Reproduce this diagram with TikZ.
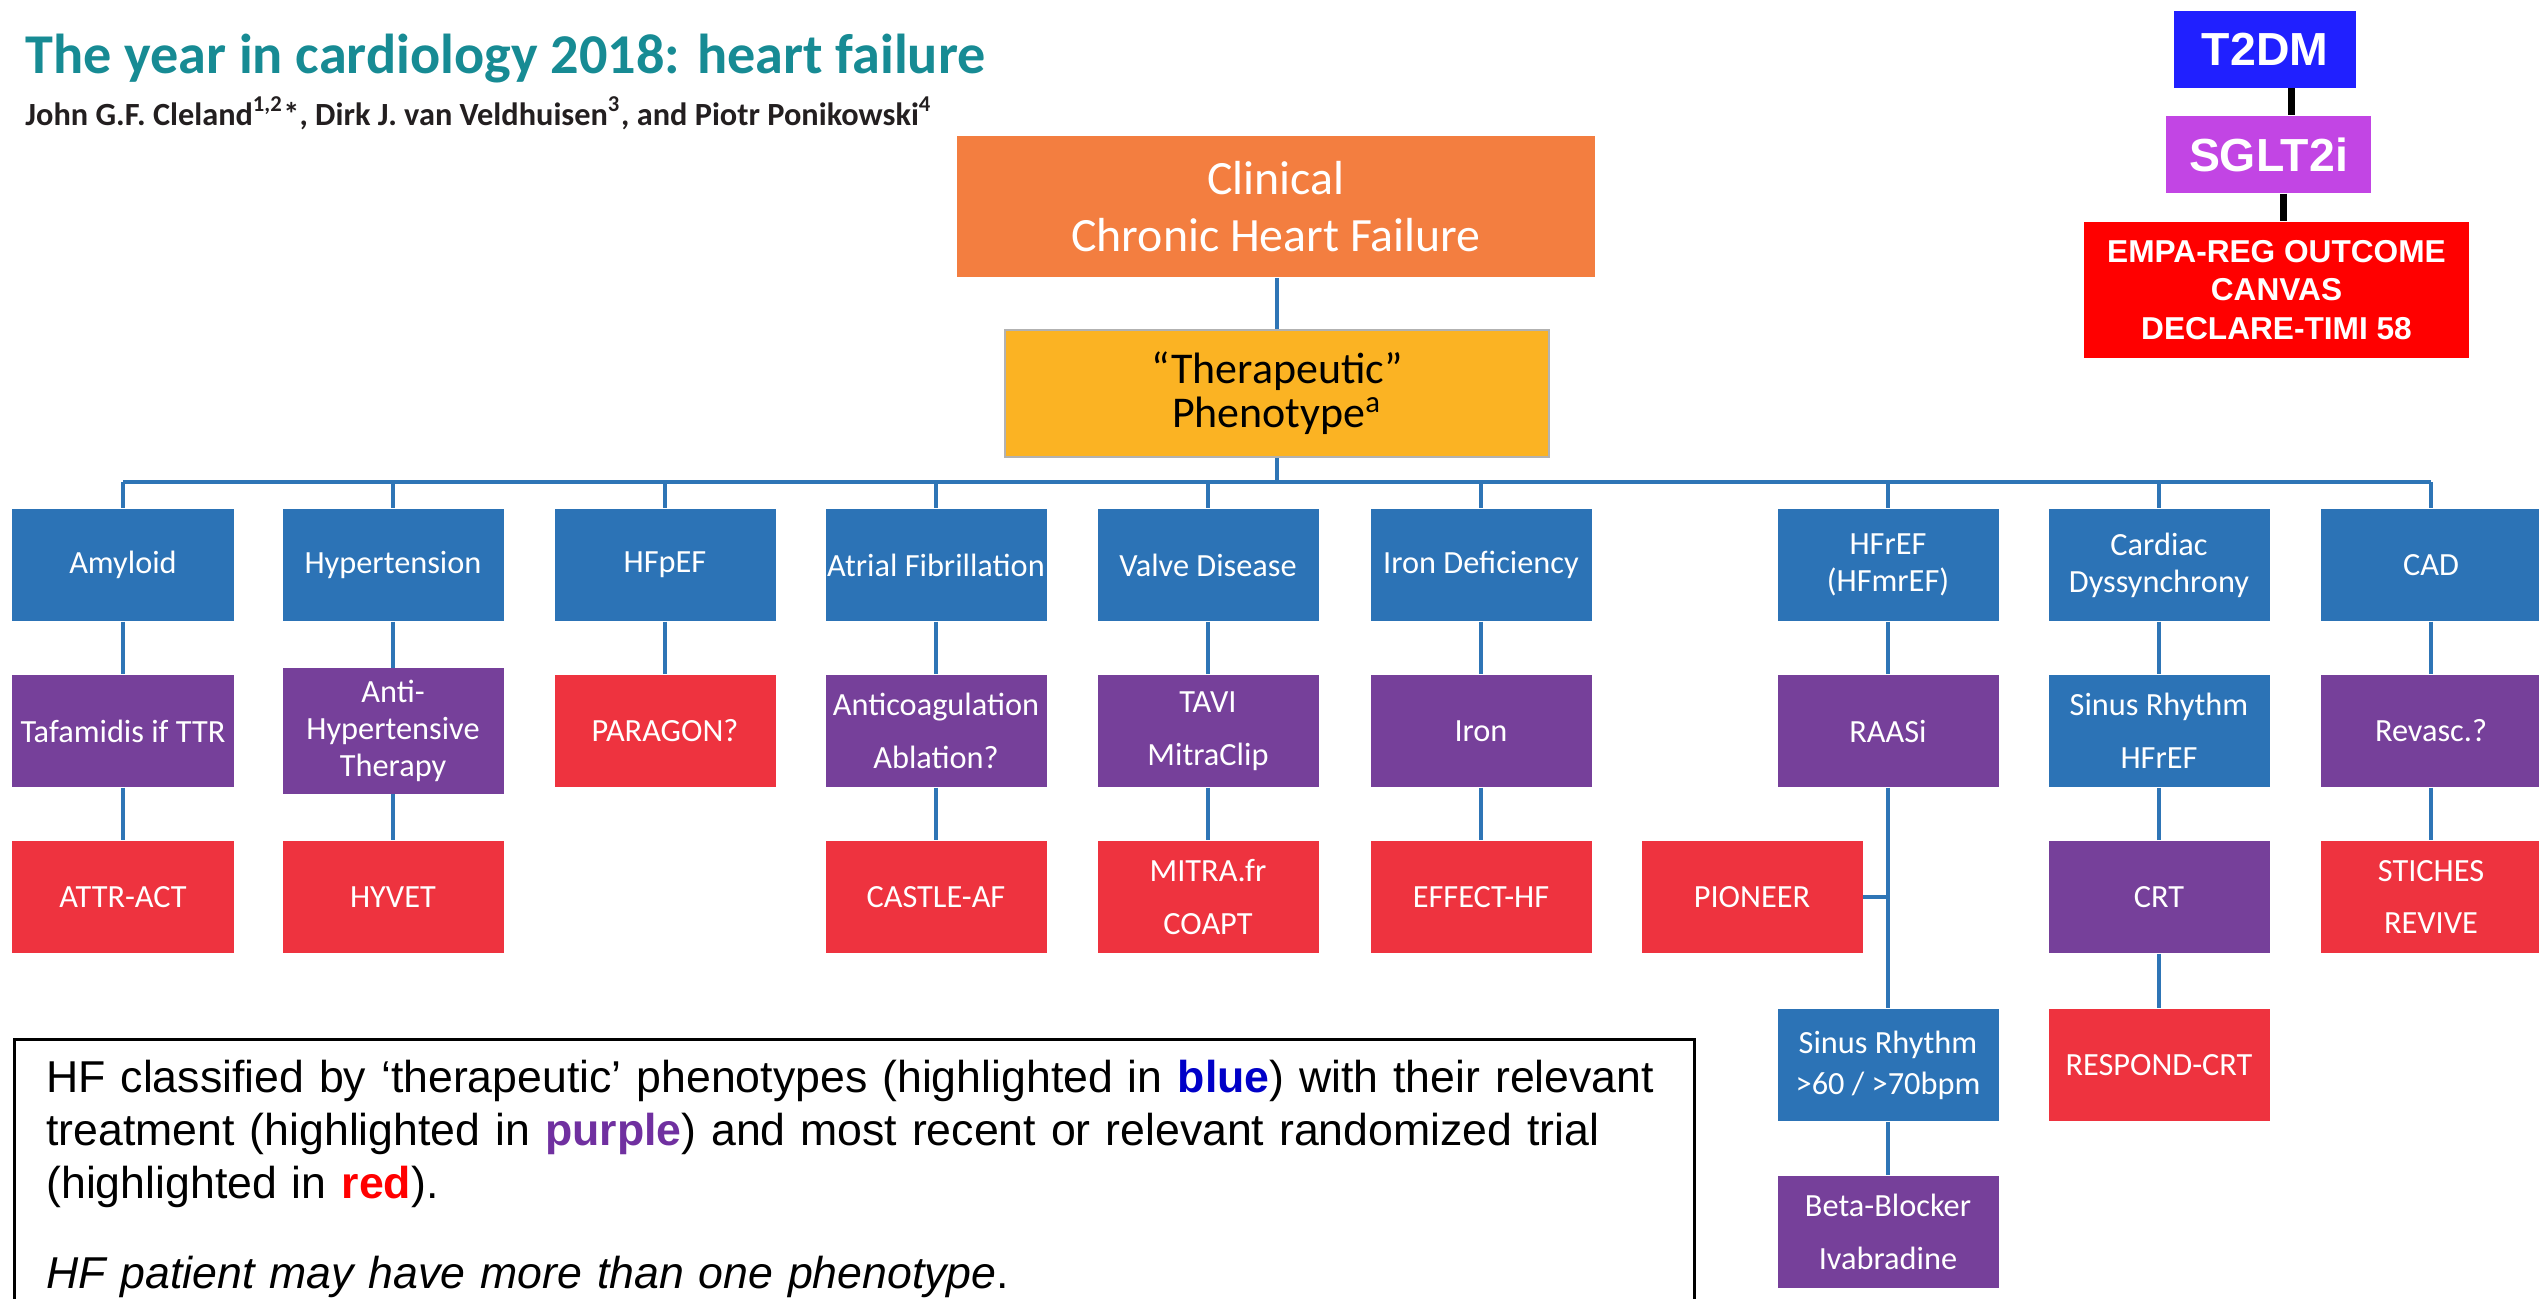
\documentclass[tikz,border=0pt]{standalone}
\usepackage{fontspec}
\usepackage{xcolor}
\newfontfamily\calfont{Carlito}
\newfontfamily\arialfont{Liberation Sans}
\definecolor{hfteal}{HTML}{178B94}
\definecolor{hfauthor}{HTML}{231F20}
\definecolor{hforange}{HTML}{F37E40}
\definecolor{hfyellow}{HTML}{FBB323}
\definecolor{hfblue}{HTML}{2C73B6}
\definecolor{hfpurple}{HTML}{76409A}
\definecolor{hfred}{HTML}{EE333F}
\definecolor{hfline}{HTML}{2E75B6}
\definecolor{dmblue}{HTML}{2020FF}
\definecolor{dmpink}{HTML}{C245E4}
\definecolor{dmred}{HTML}{FF0000}
\definecolor{capblue}{HTML}{0000C8}
\definecolor{cappurple}{HTML}{7030A0}

\begin{document}
\begin{tikzpicture}[
    box/.style={minimum width=2.21cm, minimum height=1.12cm, inner xsep=0pt, text=white,
      align=center, font=\calfont\fontsize{9.2}{10.6}\selectfont},
    pheno/.style={box, fill=hfblue},
    treat/.style={box, fill=hfpurple},
    trial/.style={box, fill=hfred},
    loose/.style={font=\calfont\fontsize{9.2}{15}\selectfont},
    link/.style={draw=hfline, line width=1.1pt},
    dmbox/.style={text=white, inner sep=0pt, align=center},
    dmline/.style={draw=black, line width=2pt}]
    \useasboundingbox (0,0) rectangle (25.39,-12.98);
    % TITLE
    \node[anchor=base west, text=hfteal, font=\calfont\bfseries\fontsize{16}{18}\selectfont]
      (title) at (0.13,-0.73) {The year in cardiology 2018: heart failure};
    \node[anchor=base west, text=hfauthor, font=\calfont\bfseries\fontsize{9.2}{10}\selectfont]
      (authors) at (0.13,-1.25)
      {John G.F. Cleland\textsuperscript{1,2}*, Dirk J. van Veldhuisen\textsuperscript{3}, and Piotr Ponikowski\textsuperscript{4}};
    % TOP
    \node[fill=hforange, text=white, minimum width=6.38cm, minimum height=1.41cm, align=center,
          font=\calfont\fontsize{13.6}{16.2}\selectfont] (chf) at (12.76,-2.065)
      {Clinical\\Chronic Heart Failure};
    \node[fill=hfyellow, draw=gray!60, line width=0.8pt, minimum width=5.44cm, minimum height=1.27cm,
          align=center, font=\calfont\fontsize{12.5}{12.6}\selectfont] (phenotype) at (12.77,-3.935)
      {“Therapeutic”\\Phenotype\textsuperscript{a}};
    \coordinate (bus) at (12.77,-4.82);
    \draw[link] (phenotype.north) -- (phenotype.north |- chf.south);
    \draw[link] (phenotype.south) -- (bus);
    % PHENOTYPES
    \node[pheno] (amyloid) at (1.23,-5.65) {Amyloid};
    \node[pheno] (hyper) at (3.93,-5.65) {Hypertension};
    \node[pheno] (hfpef) at (6.65,-5.65) {HFpEF};
    \node[pheno] (afib) at (9.36,-5.65) {Atrial Fibrillation};
    \node[pheno] (valve) at (12.08,-5.65) {Valve Disease};
    \node[pheno] (iron) at (14.81,-5.65) {Iron Deficiency};
    \node[pheno] (hfref) at (18.88,-5.65) {HFrEF\\(HFmrEF)};
    \node[pheno] (dyssync) at (21.59,-5.65) {Cardiac\\Dyssynchrony};
    \node[pheno] (cad) at (24.31,-5.65) {CAD};
    \draw[link] (bus -| amyloid.north) -- (bus -| cad.north);
    \foreach \n in {amyloid,hyper,hfpef,afib,valve,iron,hfref,dyssync,cad}
      \draw[link] (bus -| \n.north) -- (\n.north);
    % TREATMENTS
    \node[treat] (tafamidis) at (1.23,-7.31) {Tafamidis if TTR};
    \node[treat] (antihyp) at (3.93,-7.31) {Anti-\\Hypertensive\\Therapy};
    \node[trial] (paragon) at (6.65,-7.31) {PARAGON?};
    \node[treat, loose] (anticoag) at (9.36,-7.31) {Anticoagulation\\Ablation?};
    \node[treat, loose] (tavi) at (12.08,-7.31) {TAVI\\MitraClip};
    \node[treat] (ironrx) at (14.81,-7.31) {Iron};
    \node[treat] (raasi) at (18.88,-7.31) {RAASi};
    \node[pheno, loose] (sinushf) at (21.59,-7.31) {Sinus Rhythm\\HFrEF};
    \node[treat] (revasc) at (24.31,-7.31) {Revasc.?};
    % TRIALS
    \node[trial] (attract) at (1.23,-8.97) {ATTR-ACT};
    \node[trial] (hyvet) at (3.93,-8.97) {HYVET};
    \node[trial] (castle) at (9.36,-8.97) {CASTLE-AF};
    \node[trial, loose] (mitra) at (12.08,-8.97) {MITRA.fr\\COAPT};
    \node[trial] (effect) at (14.81,-8.97) {EFFECT-HF};
    \node[trial] (pioneer) at (17.52,-8.97) {PIONEER};
    \node[treat] (crt) at (21.59,-8.97) {CRT};
    \node[trial, loose] (stiches) at (24.31,-8.97) {STICHES\\REVIVE};
    \node[pheno] (sinusbpm) at (18.88,-10.65) {Sinus Rhythm\\[1pt]>60 / >70bpm};
    \node[trial] (respond) at (21.59,-10.65) {RESPOND-CRT};
    \node[treat, loose] (betabl) at (18.88,-12.32) {Beta-Blocker\\Ivabradine};
    \foreach \a/\b in {amyloid/tafamidis, tafamidis/attract, hyper/antihyp, antihyp/hyvet,
        hfpef/paragon, afib/anticoag, anticoag/castle, valve/tavi, tavi/mitra,
        iron/ironrx, ironrx/effect, hfref/raasi, raasi/sinusbpm, sinusbpm/betabl,
        dyssync/sinushf, sinushf/crt, crt/respond, cad/revasc, revasc/stiches}
      \draw[link] (\a) -- (\b);
    \draw[link] (pioneer.east) -- (pioneer.east -| raasi.south);
    % T2DM
    \node[dmbox, fill=dmblue, minimum width=1.82cm, minimum height=0.77cm,
          font=\arialfont\bfseries\fontsize{13.2}{14}\selectfont] (t2dm) at (22.65,-0.49) {T2DM};
    \node[dmbox, fill=dmpink, minimum width=2.05cm, minimum height=0.77cm,
          font=\arialfont\bfseries\fontsize{13.2}{14}\selectfont] (sglt) at (22.685,-1.545) {SGLT2i};
    \node[dmbox, fill=dmred, minimum width=3.85cm, minimum height=1.36cm,
          font=\arialfont\bfseries\fontsize{9}{11}\selectfont] (empa) at (22.765,-2.90)
      {EMPA-REG OUTCOME\\CANVAS\\DECLARE-TIMI 58};
    \draw[dmline] ([xshift=2.6mm]t2dm.south) -- ([xshift=2.6mm]t2dm.south |- sglt.north);
    \draw[dmline] ([xshift=1.45mm]sglt.south) -- ([xshift=1.45mm]sglt.south |- empa.north);
    % LEGEND
    \node[draw=black, line width=0.8pt, anchor=north west, text width=16.16cm, inner xsep=0.32cm,
          inner ysep=6pt, align=left, font=\arialfont\fontsize{12.7}{15}\selectfont] (legend) at (0.13,-10.38)
      {HF classified by ‘therapeutic’ phenotypes (highlighted in {\bfseries\color{capblue}blue}) with their relevant\\
       treatment (highlighted in {\bfseries\color{cappurple}purple}) and most recent or relevant randomized trial\\
       (highlighted in {\bfseries\color{dmred}red}).\\[10.8pt]
       \textit{HF patient may have more than one phenotype}.};
\end{tikzpicture}
\end{document}
